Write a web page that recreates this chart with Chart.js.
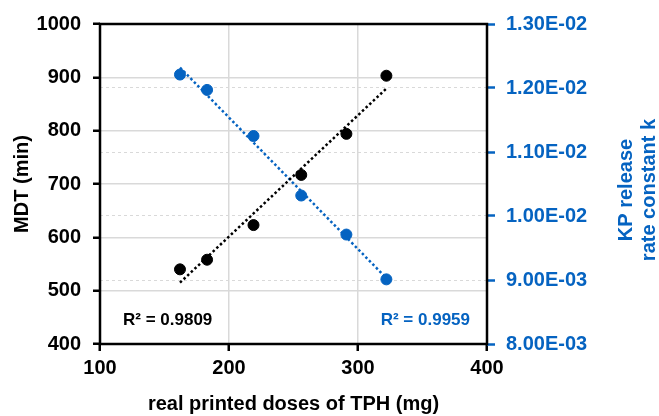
<!DOCTYPE html>
<html>
<head>
<meta charset="utf-8">
<script src="https://cdn.jsdelivr.net/npm/chart.js@4.4.1/dist/chart.umd.min.js"></script>
<style>
  html, body { margin: 0; padding: 0; background: #fff; }
  #wrap { width: 659px; height: 416px; position: relative; }
</style>
</head>
<body>
<div id="wrap"><canvas id="c"></canvas></div>
<script>
// ---- data ----
const doses = [162, 183, 219, 256, 291, 322];              // real printed doses of TPH (mg)
const mdt = [540, 558, 623, 717, 794, 903];                // MDT (min)
const kRate = [0.01221, 0.01197, 0.01125, 0.01032, 0.00971, 0.00901]; // KP release rate constant k
const mdtTrendX = [162, 322];
const mdtTrendY = [515, 879];
const kTrendX = [162, 322];
const kTrendY = [0.01232, 0.00903];
const mdtR2 = 'R² = 0.9809';
const kR2 = 'R² = 0.9959';
const xTicks = [100, 200, 300, 400];
const yLeftTicks = [400, 500, 600, 700, 800, 900, 1000];
const yRightTicks = [0.008, 0.009, 0.010, 0.011, 0.012, 0.013];
const xTitle = 'real printed doses of TPH (mg)';
const yLeftTitle = 'MDT (min)';
const yRightTitle = ['KP release', 'rate constant k'];

const BLUE = '#0563C1';
const FONT = "'Liberation Sans', Arial, sans-serif";

function sci(v) {
  const e = Math.floor(Math.log10(Math.abs(v)) + 1e-9);
  const m = v / Math.pow(10, e);
  const sign = e < 0 ? '-' : '+';
  const ae = Math.abs(e);
  return m.toFixed(2) + 'E' + sign + (ae < 10 ? '0' : '') + ae;
}

const pts = (xs, ys) => xs.map((x, i) => ({ x: x, y: ys[i] }));

const framePlugin = {
  id: 'frame',
  afterDatasetsDraw(chart) {
    const { ctx, chartArea: a } = chart;
    ctx.save();
    ctx.strokeStyle = '#000';
    ctx.lineWidth = 2.5;
    ctx.beginPath();
    ctx.moveTo(a.left, a.top); ctx.lineTo(a.right, a.top);
    ctx.lineTo(a.right, a.bottom); ctx.lineTo(a.left, a.bottom);
    ctx.closePath();
    ctx.stroke();
    // R² labels
    ctx.font = 'bold 17px ' + FONT;
    ctx.textBaseline = 'middle';
    ctx.fillStyle = '#000';
    ctx.textAlign = 'left';
    ctx.fillText(mdtR2, a.left + 23, 320);
    ctx.fillStyle = BLUE;
    ctx.textAlign = 'right';
    ctx.fillText(kR2, a.right - 17, 320);
    // right axis title (reads bottom to top)
    ctx.font = 'bold 20px ' + FONT;
    ctx.textAlign = 'center';
    ctx.fillStyle = BLUE;
    const cy = (a.top + a.bottom) / 2 + 6;
    ctx.translate(626, cy);
    ctx.rotate(-Math.PI / 2);
    ctx.fillText(yRightTitle[0], 0, 0);
    ctx.fillText(yRightTitle[1], 0, 23);
    ctx.restore();
  }
};

new Chart(document.getElementById('c'), {
  type: 'scatter',
  data: {
    datasets: [
      {
        type: 'line', label: 'MDT trend', data: pts(mdtTrendX, mdtTrendY), yAxisID: 'y',
        borderColor: '#000', borderWidth: 2.5, borderDash: [2.5, 2.5], pointRadius: 0, fill: false, order: 3
      },
      {
        type: 'line', label: 'k trend', data: pts(kTrendX, kTrendY), yAxisID: 'y1',
        borderColor: BLUE, borderWidth: 2.5, borderDash: [2.5, 2.5], pointRadius: 0, fill: false, order: 3
      },
      {
        label: 'MDT', data: pts(doses, mdt), yAxisID: 'y',
        backgroundColor: '#000', borderColor: '#000', pointRadius: 5.5, pointHoverRadius: 5.5, order: 1
      },
      {
        label: 'k', data: pts(doses, kRate), yAxisID: 'y1',
        backgroundColor: BLUE, borderColor: BLUE, pointRadius: 5.5, pointHoverRadius: 5.5, order: 1
      }
    ]
  },
  options: {
    responsive: true,
    maintainAspectRatio: false,
    animation: false,
    events: [],
    layout: { padding: { top: 21, left: 0, right: 0, bottom: 0 } },
    plugins: { legend: { display: false }, tooltip: { enabled: false } },
    scales: {
      x: {
        type: 'linear', min: 100, max: 400,
        afterBuildTicks: s => { s.ticks = xTicks.map(v => ({ value: v })); },
        afterFit: s => { s.height = 72; },
        grid: { color: '#d9d9d9', lineWidth: 1.5, tickColor: '#000', tickWidth: 2.5, tickLength: 7 },
        border: { display: false },
        ticks: { color: '#000', font: { family: FONT, size: 20, weight: 'bold' }, padding: 5, maxRotation: 0, callback: v => String(v) },
        title: { display: true, text: xTitle, color: '#000', font: { family: FONT, size: 20, weight: 'bold' }, padding: { top: 0, bottom: 0 } }
      },
      y: {
        type: 'linear', position: 'left', min: 400, max: 1000,
        afterBuildTicks: s => { s.ticks = yLeftTicks.map(v => ({ value: v })); },
        afterFit: s => { s.width = 100; },
        grid: { color: '#d9d9d9', lineWidth: 1.5, tickColor: '#000', tickWidth: 2.5, tickLength: 7 },
        border: { display: false },
        ticks: { color: '#000', font: { family: FONT, size: 20, weight: 'bold' }, padding: 12, callback: v => String(v) },
        title: { display: true, text: yLeftTitle, color: '#000', font: { family: FONT, size: 20, weight: 'bold' }, padding: { top: 10, bottom: 0 } }
      },
      y1: {
        type: 'linear', position: 'right', min: 0.008, max: 0.013,
        afterBuildTicks: s => { s.ticks = yRightTicks.map(v => ({ value: v })); },
        afterFit: s => { s.width = 172; },
        grid: { color: '#d9d9d9', lineWidth: 1, tickColor: BLUE, tickWidth: 2.5, tickLength: 8, drawOnChartArea: true },
        border: { display: false, dash: [3, 3] },
        ticks: { color: BLUE, font: { family: FONT, size: 20, weight: 'bold' }, padding: 11, callback: v => sci(v) },
        title: { display: false }
      }
    }
  },
  plugins: [framePlugin]
});
</script>
</body>
</html>
